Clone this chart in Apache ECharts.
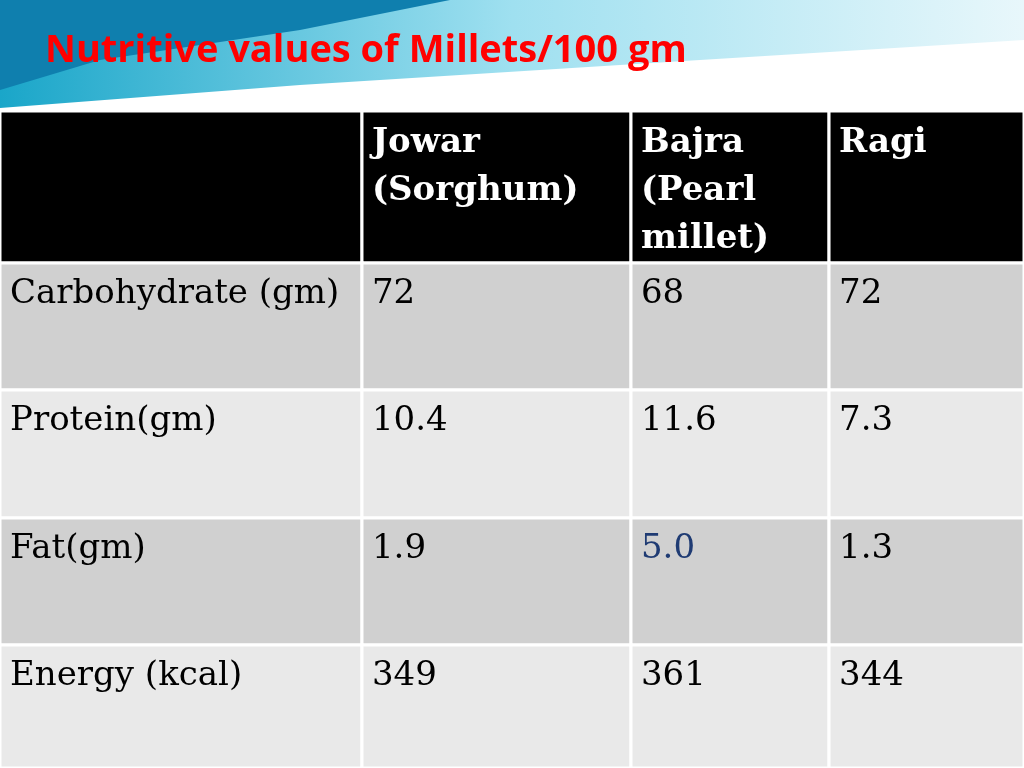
<!DOCTYPE html>
<html><head><meta charset="utf-8">
<script src="https://cdn.jsdelivr.net/npm/echarts@6/dist/echarts.min.js"></script>
<style>html,body{margin:0;padding:0;background:#fff}#c{width:1024px;height:768px}</style>
</head><body><div id="c"></div>
<script>
const title = "Nutritive values of Millets/100 gm";
const columns = ["", "Jowar\n(Sorghum)", "Bajra\n(Pearl\nmillet)", "Ragi"];
const rowLabels = ["Carbohydrate (gm)", "Protein(gm)", "Fat(gm)", "Energy (kcal)"];
const jowar = ["72", "10.4", "1.9", "349"];
const bajra = ["68", "11.6", "5.0", "361"];
const ragi = ["72", "7.3", "1.3", "344"];

// layout
const colEdges = [0, 0.3535, 0.6162, 0.8096, 1];
const rowEdges = [0, 152, 279, 407, 534, 657];

const cells = [];
columns.forEach((t, c) => cells.push([c, 0, t]));
rowLabels.forEach((lab, r) => {
  cells.push([0, r + 1, lab]);
  cells.push([1, r + 1, jowar[r]]);
  cells.push([2, r + 1, bajra[r]]);
  cells.push([3, r + 1, ragi[r]]);
});

const chart = echarts.init(document.getElementById('c'));
chart.setOption({
  animation: false,
  graphic: [
    { type: 'polygon', shape: { points: [[0,0],[1024,0],[1024,40],[700,60],[300,85],[0,108]] },
      style: { fill: new echarts.graphic.LinearGradient(0,0,1,0,[{offset:0,color:'#1aa6c9'},{offset:0.5,color:'#9fe0f0'},{offset:1,color:'#e8f7fb'}]) } },
    { type: 'polygon', shape: { points: [[0,0],[450,0],[300,30],[100,60],[0,90]] },
      style: { fill: '#0f7fae' } },
    { type: 'text', left: 45, top: 32, style: { text: title, fill: '#ff0000', font: 'bold 38px "Open Sans", sans-serif' } }
  ],
  grid: { left: 0, right: 0, top: 111, bottom: 0 },
  xAxis: { type: 'value', min: 0, max: 1, show: false },
  yAxis: { type: 'value', min: 0, max: 657, inverse: true, show: false },
  series: [{
    type: 'custom',
    data: cells,
    renderItem: (params, api) => {
      const c = api.value(0), r = api.value(1);
      const txt = cells[params.dataIndex][2];
      const p0 = api.coord([colEdges[c], rowEdges[r]]);
      const p1 = api.coord([colEdges[c + 1], rowEdges[r + 1]]);
      const fill = r === 0 ? '#000' : (r % 2 === 1 ? '#d0d0d0' : '#e9e9e9');
      const color = r === 0 ? '#fff' : (txt === '5.0' ? '#1f3b73' : '#000');
      return { type: 'group', children: [
        { type: 'rect', shape: { x: p0[0], y: p0[1], width: p1[0] - p0[0], height: p1[1] - p0[1] },
          style: { fill: fill, stroke: '#fff', lineWidth: 3 } },
        { type: 'text', style: { text: txt, x: p0[0] + 10, y: p0[1] + (r === 0 ? 8 : 7),
          fill: color, font: (r === 0 ? 'bold ' : '') + '34px "DejaVu Serif", "Liberation Serif", serif',
          lineHeight: 48, verticalAlign: 'top' } }
      ]};
    }
  }]
});
</script></body></html>
